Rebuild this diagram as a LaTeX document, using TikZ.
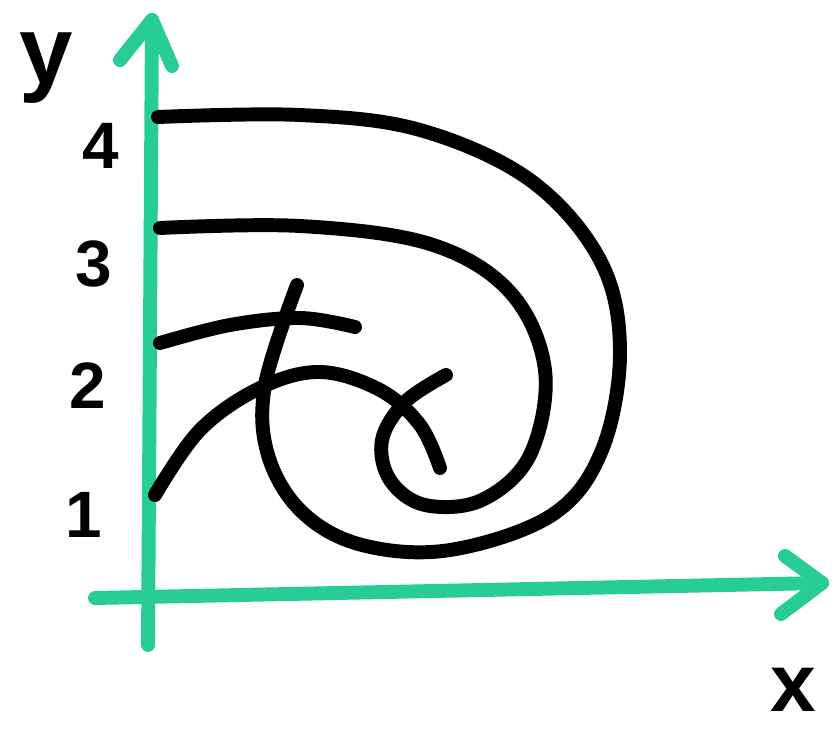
\documentclass[tikz,border=0pt]{standalone}
\usepackage{fontspec}
\setmainfont{Liberation Sans}
\definecolor{axisgreen}{RGB}{40,205,150}
\tikzset{
  axisline/.style={draw=axisgreen, line width=14pt*0.03/0.0352778, line cap=round, line join=round},
  ink/.style={draw=black, line width=14pt*0.03/0.0352778, line cap=round, line join=round},
  num/.style={font=\bfseries\fontsize{56}{56}\selectfont, inner sep=0pt},
  axlabel/.style={font=\bfseries\fontsize{82}{82}\selectfont, inner sep=0pt}
}
\begin{document}
\begin{tikzpicture}[x=0.03cm,y=-0.03cm]
\useasboundingbox (0,0) rectangle (835,737);
\fill[white] (0,0) rectangle (835,737);
% axes
\coordinate (ybot) at (148,645);
\coordinate (ytop) at (152,20);
\coordinate (xleft) at (95,598);
\coordinate (xright) at (822,583);
\draw[axisline] (ybot) -- (ytop);
\draw[axisline] (120,60) -- (ytop) -- (172,66);
\draw[axisline] (xleft) -- (xright);
\draw[axisline] (785,556) -- (xright) -- (781,614);
% labels
\node[axlabel] (ylab) at (46,68) {y};
\node[axlabel, font=\bfseries\fontsize{70}{70}\selectfont] (xlab) at (793,690) {x};
\node[num] (n4) at (101,146) {4};
\node[num] (n3) at (94,264) {3};
\node[num] (n2) at (88,386) {2};
\node[num] (n1) at (84,515) {1};
% curves
\draw[ink] plot[smooth, tension=0.6] coordinates {(158,117) (300,115) (420,130) (530,180) (600,260) (620,350) (602,450) (552,515) (450,550) (362,545) (302,512) (268,455) (265,385) (297,285)};
\draw[ink] plot[smooth, tension=0.6] coordinates {(160,228) (300,226) (430,244) (510,292) (545,370) (530,455) (482,500) (425,505) (390,480) (382,440) (405,402) (446,375)};
\draw[ink] plot[smooth, tension=0.6] coordinates {(160,343) (230,325) (300,318) (355,327)};
\draw[ink] plot[smooth, tension=0.6] coordinates {(155,495) (200,430) (260,388) (320,372) (380,390) (420,425) (440,468)};
\end{tikzpicture}
\end{document}
